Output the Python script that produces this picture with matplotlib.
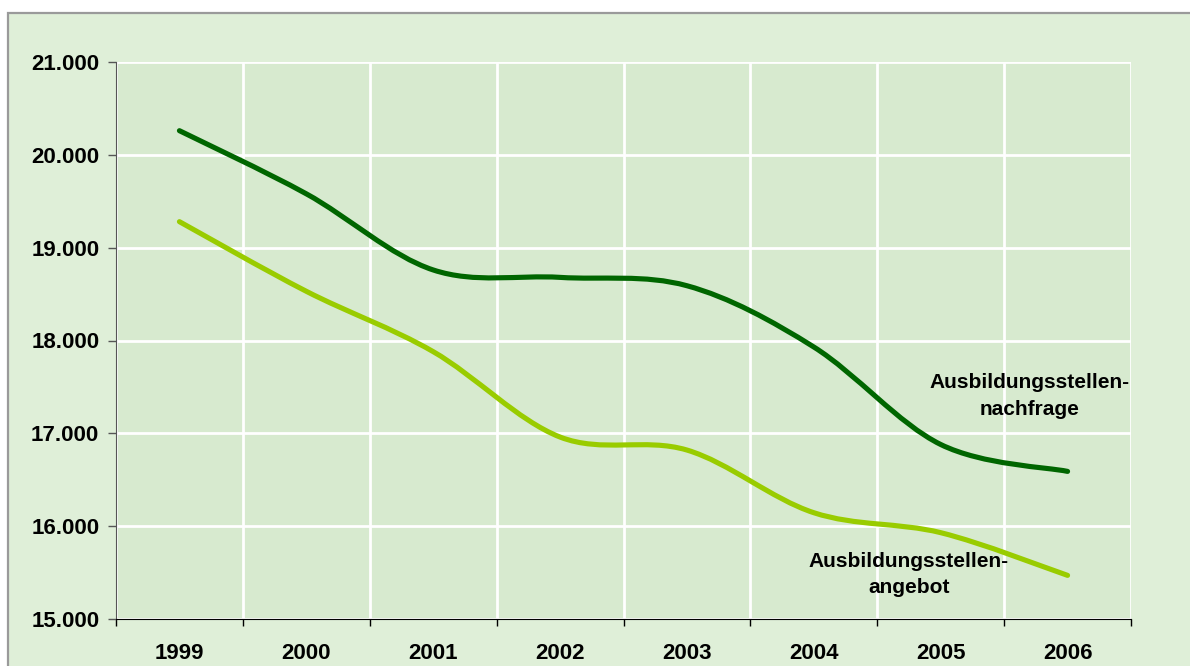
import numpy as np
import matplotlib.pyplot as plt
from matplotlib.path import Path
from matplotlib.patches import PathPatch, Rectangle

# %%
# Data
years = ["1999", "2000", "2001", "2002", "2003", "2004", "2005", "2006"]
nachfrage = [20260, 19580, 18760, 18680, 18590, 17930, 16880, 16590]
angebot = [19280, 18530, 17880, 16960, 16820, 16145, 15930, 15470]
y_ticks = [15000, 16000, 17000, 18000, 19000, 20000, 21000]

plt.rcParams["font.family"] = ["Liberation Sans", "DejaVu Sans"]


def smooth_path(xs, ys):
    """
    Excel-like smoothed line: Catmull-Rom segments written as cubic Bezier
    """
    pts = np.column_stack([xs, ys]).astype(float)
    n = len(pts)
    verts = [pts[0]]
    codes = [Path.MOVETO]
    for i in range(n - 1):
        p_prev = pts[max(i - 1, 0)]
        p0 = pts[i]
        p1 = pts[i + 1]
        p_next = pts[min(i + 2, n - 1)]
        c1 = p0 + (p1 - p_prev) / 6
        c2 = p1 - (p_next - p0) / 6
        verts += [c1, c2, p1]
        codes += [Path.CURVE4] * 3
    return Path(verts, codes)


W, H = 1190, 666
fig = plt.figure(figsize=(W / 100, H / 100), dpi=100, facecolor="white")

# Chart area with grey frame (right and bottom edges run off the picture)
fig.patches.append(Rectangle((8 / W, -0.05), 1.1, (H - 13) / H + 0.05,
                             transform=fig.transFigure, facecolor="#DFEFD8",
                             edgecolor="#9A9A9A", lw=1.6, zorder=0))

ax = fig.add_axes([116 / W, (H - 619) / H, 1015 / W, 557 / H])
ax.set_facecolor("#D7EACF")
ax.set_zorder(1)

x = np.arange(len(years))
ax.add_patch(PathPatch(smooth_path(x, nachfrage), fill=False,
                       edgecolor="#006600", lw=3.7, capstyle="round",
                       joinstyle="round", zorder=3))
ax.add_patch(PathPatch(smooth_path(x, angebot), fill=False,
                       edgecolor="#99CC00", lw=3.7, capstyle="round",
                       joinstyle="round", zorder=3))

ax.set_xlim(-0.5, len(years) - 0.5)
ax.set_ylim(15000, 21000)

# Category boundaries carry the grid and tick marks, centres carry labels
ax.set_xticks(np.arange(-0.5, len(years)))
ax.set_xticklabels([])
ax.set_xticks(x, minor=True)
ax.set_xticklabels(years, minor=True, fontsize=16, fontweight="bold")
ax.tick_params(axis="x", which="major", direction="out", length=5,
               width=1, color="black")
ax.tick_params(axis="x", which="minor", length=0, pad=17)

ax.set_yticks(y_ticks)
ax.set_yticklabels([f"{v:,.0f}".replace(",", ".") for v in y_ticks],
                   fontsize=16, fontweight="bold")
ax.tick_params(axis="y", direction="out", length=6, width=1,
               color="#555555", pad=6)

ax.grid(True, which="major", color="white", lw=2)
ax.set_axisbelow(True)

for side in ["top", "right"]:
    ax.spines[side].set_visible(False)
ax.spines["left"].set_color("#555555")
ax.spines["bottom"].set_color("black")
ax.spines["left"].set_zorder(4)
ax.spines["bottom"].set_zorder(4)

# Series labels
ax.text(6.70, 17400, "Ausbildungsstellen-\nnachfrage", ha="center",
        va="center", fontsize=15, fontweight="bold", linespacing=1.5,
        zorder=5)
ax.text(5.75, 15480, "Ausbildungsstellen-\nangebot", ha="center",
        va="center", fontsize=15, fontweight="bold", linespacing=1.5,
        zorder=5)

fig.savefig("out.png", dpi=100, facecolor=fig.get_facecolor())
